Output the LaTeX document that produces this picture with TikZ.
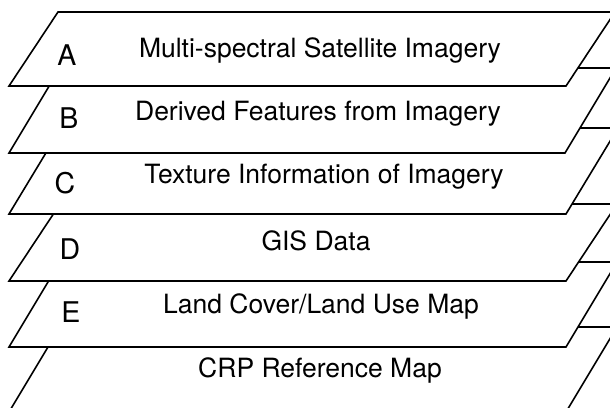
\documentclass[tikz,border=0pt]{standalone}
\usepackage{fontspec}
\setmainfont{TeX Gyre Heros}
\begin{document}
\begin{tikzpicture}[x=1pt,y=-1pt,
  layerbox/.style={draw=black, line width=1.6pt, fill=white, line join=miter},
  lbl/.style={font=\fontsize{26.5}{30}\selectfont, inner sep=0pt, anchor=base},
  letter/.style={font=\fontsize{28.5}{32}\selectfont, inner sep=0pt, anchor=base}]
\useasboundingbox (0,0) rectangle (610,407);
\clip (0,0) rectangle (610,407);
\fill[white] (0,0) rectangle (610,407);
% layers drawn bottom-most first
\draw[layerbox] (9,412) -- (566,412) -- (617,327) -- (60,327) -- cycle; % F
\draw[layerbox] (9,347) -- (566,347) -- (617,262) -- (60,262) -- cycle; % E
\draw[layerbox] (9,281) -- (566,281) -- (617,204) -- (60,204) -- cycle; % D
\draw[layerbox] (9,214) -- (566,214) -- (618,128) -- (61,128) -- cycle; % C
\draw[layerbox] (9,153) -- (565,153) -- (616,68) -- (60,68) -- cycle;   % B
\draw[layerbox] (9,86) -- (566,86) -- (615,12) -- (58,12) -- cycle;     % A
% titles
\node[lbl] (tA) at (320,57) {Multi-spectral Satellite Imagery};
\node[lbl] (tB) at (318,120) {Derived Features from Imagery};
\node[lbl] (tC) at (324,183) {Texture Information of Imagery};
\node[lbl] (tD) at (316,250) {GIS Data};
\node[lbl] (tE) at (321,313) {Land Cover/Land Use Map};
\node[lbl] (tF) at (320,377) {CRP Reference Map};
% letters
\node[letter] (lA) at (67,65) {A};
\node[letter] (lB) at (69,128) {B};
\node[letter] (lC) at (65,193) {C};
\node[letter] (lD) at (70,259) {D};
\node[letter] (lE) at (71,322) {E};
\end{tikzpicture}
\end{document}
